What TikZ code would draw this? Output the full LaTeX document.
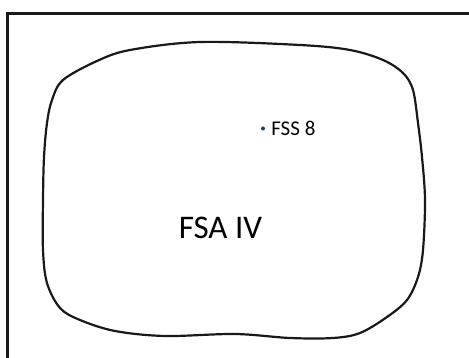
\documentclass[tikz,border=0pt]{standalone}
\usepackage{fontspec}
\setmainfont{Carlito}
\definecolor{dotblue}{RGB}{31,56,100}
\usetikzlibrary{positioning}

\begin{document}
\begin{tikzpicture}[
  x=1pt, y=-1pt,
  frameline/.style={line width=2.2pt, black!90},
  regionline/.style={line width=2.2pt, black!90},
  sitedot/.style={circle, fill=dotblue, inner sep=0pt, minimum size=4pt},
  smalllabel/.style={inner sep=0pt, font=\fontsize{21}{25}\selectfont},
  biglabel/.style={inner sep=0pt, font=\fontsize{33}{40}\selectfont},
]
  \useasboundingbox (0,0) rectangle (469,358);
  % Frame (top and left edges only)
  \draw[frameline] (7.5,358) -- (7.5,13.5) -- (469,13.5);
  % Region outline
  \draw[regionline] plot[smooth cycle, tension=0.55] coordinates {
    (200,42) (300,45) (350,50) (383,60) (403,73) (413,90) (418,123)
    (422,157) (425,200) (423,250) (418,277) (407,300) (387,317)
    (360,333) (333,338) (290,338) (235,334) (165,336)
    (115,331) (80,320) (60,308) (47,283) (43,250) (43,200)
    (44,157) (47,123) (52,100) (63,80) (97,61) (130,50)
  };
  % Site
  \node[sitedot] (fss8dot) at (263,128.5) {};
  \node[smalllabel, right=6pt of fss8dot] (fss8) {FSS 8};
  % Region name
  \node[biglabel] (fsa4) at (220.5,228) {FSA IV};
\end{tikzpicture}
\end{document}
